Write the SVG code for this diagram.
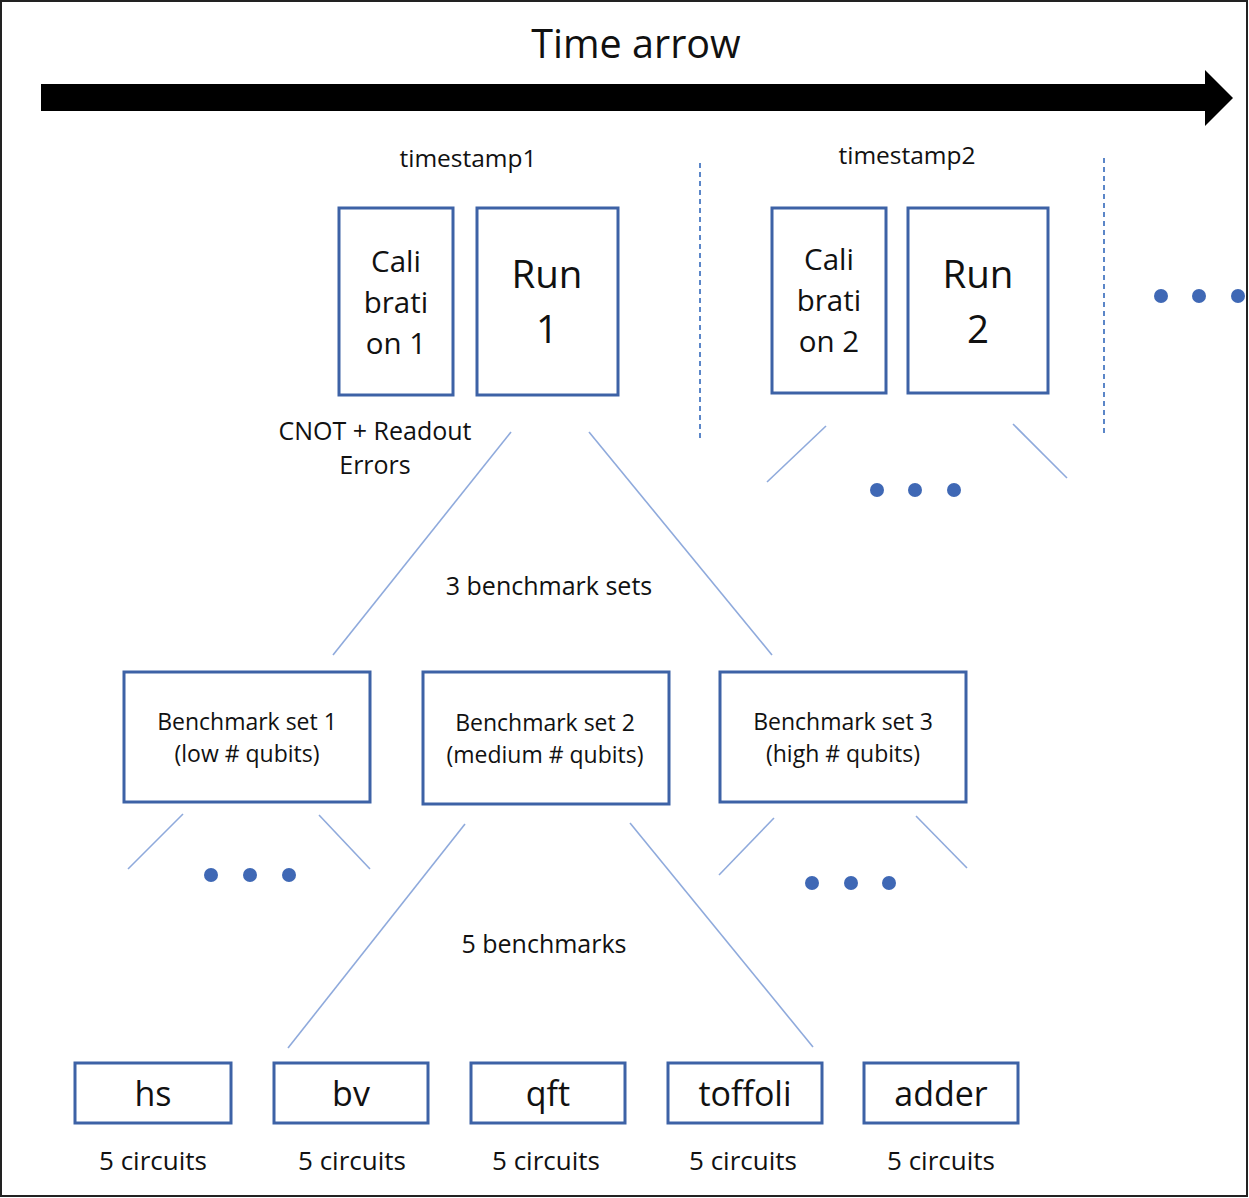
<svg xmlns="http://www.w3.org/2000/svg" width="1249" height="1198" viewBox="0 0 1249 1198">
<style>
text{font-family:"Open Sans","Noto Sans",sans-serif;fill:#111;text-anchor:middle}
.box{fill:#fff;stroke:#3D62A6;stroke-width:3}
.ln{stroke:#8FAADC;stroke-width:1.6;fill:none}
.dash{stroke:#5B86C8;stroke-width:2;stroke-dasharray:5,4}
.dot{fill:#3F68B5}
.cal{font-size:29.5px}
.run{font-size:38.5px}
.bs{font-size:23px}
.bm{font-size:34px}
.lab{font-size:25px}
.ts{font-size:24.5px}
.cc{font-size:26px}
</style>
<rect x="1" y="1" width="1246" height="1195" fill="#fff" stroke="#222" stroke-width="2"/>
<g id="time-arrow">
<polygon points="41,84 1205,84 1205,70 1233,98 1205,126 1205,111 41,111" fill="#000"/>
<text x="636" y="58" font-size="39.5">Time arrow</text>
</g>
<text x="468" y="167" class="ts">timestamp1</text>
<text x="907" y="164" class="ts">timestamp2</text>
<line class="dash" x1="700" y1="163" x2="700" y2="440"/>
<line class="dash" x1="1104" y1="158" x2="1104" y2="436"/>
<g id="calibration1"><rect class="box" x="339" y="208" width="114" height="187"/>
<text class="cal" x="396" y="272">Cali</text><text class="cal" x="396" y="313">brati</text><text class="cal" x="396" y="354">on 1</text></g>
<g id="run1"><rect class="box" x="477" y="208" width="141" height="187"/>
<text class="run" x="547" y="288">Run</text><text class="run" x="547" y="343">1</text></g>
<g id="calibration2"><rect class="box" x="772" y="208" width="114" height="185"/>
<text class="cal" x="829" y="270">Cali</text><text class="cal" x="829" y="311">brati</text><text class="cal" x="829" y="352">on 2</text></g>
<g id="run2"><rect class="box" x="908" y="208" width="140" height="185"/>
<text class="run" x="978" y="288">Run</text><text class="run" x="978" y="343">2</text></g>
<g id="dots-more"><circle class="dot" cx="1161" cy="296" r="7"/><circle class="dot" cx="1199" cy="296" r="7"/><circle class="dot" cx="1238" cy="296" r="7"/></g>
<text class="lab" x="375" y="440">CNOT + Readout</text>
<text class="lab" x="375" y="474">Errors</text>
<text class="lab" x="549" y="595">3 benchmark sets</text>
<text class="lab" x="544" y="953">5 benchmarks</text>
<g id="connectors">
<line class="ln" x1="511" y1="432" x2="333" y2="655"/>
<line class="ln" x1="589" y1="432" x2="772" y2="655"/>
<line class="ln" x1="826" y1="426" x2="767" y2="482"/>
<line class="ln" x1="1013" y1="424" x2="1067" y2="478"/>
<line class="ln" x1="183" y1="814" x2="128" y2="869"/>
<line class="ln" x1="319" y1="815" x2="370" y2="869"/>
<line class="ln" x1="465" y1="824" x2="288" y2="1048"/>
<line class="ln" x1="630" y1="823" x2="813" y2="1047"/>
<line class="ln" x1="774" y1="818" x2="719" y2="875"/>
<line class="ln" x1="916" y1="816" x2="967" y2="868"/>
</g>
<g id="dots-run2"><circle class="dot" cx="877" cy="490" r="7"/><circle class="dot" cx="915" cy="490" r="7"/><circle class="dot" cx="954" cy="490" r="7"/></g>
<g id="set1"><rect class="box" x="124" y="672" width="246" height="130"/>
<text class="bs" x="247" y="730">Benchmark set 1</text><text class="bs" x="247" y="762">(low # qubits)</text></g>
<g id="set2"><rect class="box" x="423" y="672" width="246" height="132"/>
<text class="bs" x="545" y="731">Benchmark set 2</text><text class="bs" x="545" y="763">(medium # qubits)</text></g>
<g id="set3"><rect class="box" x="720" y="672" width="246" height="130"/>
<text class="bs" x="843" y="730">Benchmark set 3</text><text class="bs" x="843" y="762">(high # qubits)</text></g>
<g id="dots-set1"><circle class="dot" cx="211" cy="875" r="7"/><circle class="dot" cx="250" cy="875" r="7"/><circle class="dot" cx="289" cy="875" r="7"/></g>
<g id="dots-set3"><circle class="dot" cx="812" cy="883" r="7"/><circle class="dot" cx="851" cy="883" r="7"/><circle class="dot" cx="889" cy="883" r="7"/></g>
<g id="hs"><rect class="box" x="75" y="1063" width="156" height="60"/><text class="bm" x="153" y="1106">hs</text></g>
<g id="bv"><rect class="box" x="274" y="1063" width="154" height="60"/><text class="bm" x="351" y="1106">bv</text></g>
<g id="qft"><rect class="box" x="471" y="1063" width="154" height="60"/><text class="bm" x="548" y="1106">qft</text></g>
<g id="toffoli"><rect class="box" x="668" y="1063" width="154" height="60"/><text class="bm" x="745" y="1106">toffoli</text></g>
<g id="adder"><rect class="box" x="864" y="1063" width="154" height="60"/><text class="bm" x="941" y="1106">adder</text></g>
<text class="cc" x="153" y="1170">5 circuits</text>
<text class="cc" x="352" y="1170">5 circuits</text>
<text class="cc" x="546" y="1170">5 circuits</text>
<text class="cc" x="743" y="1170">5 circuits</text>
<text class="cc" x="941" y="1170">5 circuits</text>
</svg>
